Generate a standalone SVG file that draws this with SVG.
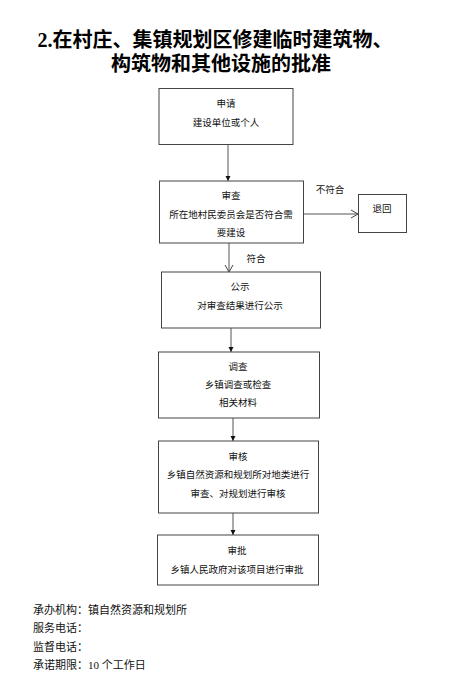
<svg xmlns="http://www.w3.org/2000/svg" width="455" height="698" viewBox="0 0 455 698">
<style>
.box{fill:#fff;stroke:#444;stroke-width:1}
.t{font-family:"Liberation Serif","Noto Sans CJK SC",serif;font-size:9.5px;fill:#111;text-anchor:middle;dominant-baseline:central}
.title{font-family:"Liberation Serif","Noto Sans CJK SC",serif;font-size:20px;font-weight:bold;fill:#000;text-anchor:middle;dominant-baseline:central}
.foot{font-family:"Liberation Serif","Noto Sans CJK SC",serif;font-size:11px;fill:#111;dominant-baseline:central}
.ln{stroke:#555;stroke-width:1;fill:none}
</style>
<defs>
<marker id="fa" markerWidth="6" markerHeight="6" refX="5" refY="3" orient="auto" markerUnits="userSpaceOnUse"><path d="M0,0.5 L5,3 L0,5.5 Z" fill="#111"/></marker>
<marker id="oa" markerWidth="8" markerHeight="10" refX="7" refY="5" orient="auto" markerUnits="userSpaceOnUse"><path d="M0,1 L7,5 L0,9" fill="none" stroke="#444" stroke-width="1"/></marker>
</defs>
<rect width="455" height="698" fill="#fff"/>
<g id="title">
<text class="title" x="215" y="40">2.在村庄、集镇规划区修建临时建筑物、</text>
<text class="title" x="221" y="64">构筑物和其他设施的批准</text>
</g>
<g id="connectors">
<line class="ln" x1="228" y1="144" x2="228" y2="181" marker-end="url(#fa)"/>
<line class="ln" x1="229" y1="243" x2="229" y2="272" marker-end="url(#oa)"/>
<text class="t" x="256" y="259">符合</text>
<line class="ln" x1="303" y1="214" x2="358" y2="214" marker-end="url(#oa)"/>
<text class="t" x="330" y="190">不符合</text>
<line class="ln" x1="231" y1="328" x2="231" y2="352" marker-end="url(#fa)"/>
<line class="ln" x1="233" y1="418" x2="233" y2="441" marker-end="url(#fa)"/>
<line class="ln" x1="233" y1="513" x2="233" y2="535" marker-end="url(#fa)"/>
</g>
<g id="n1">
<rect class="box" x="159" y="88.5" width="134" height="56"/>
<text class="t" x="226" y="104">申请</text>
<text class="t" x="226" y="123">建设单位或个人</text>
</g>
<g id="n2">
<rect class="box" x="159.5" y="181" width="144" height="62"/>
<text class="t" x="231" y="196">审查</text>
<text class="t" x="231" y="215">所在地村民委员会是否符合需</text>
<text class="t" x="231" y="233">要建设</text>
</g>
<g id="n3">
<rect class="box" x="358.5" y="194.5" width="48" height="38"/>
<text class="t" x="382" y="209">退回</text>
</g>
<g id="n4">
<rect class="box" x="161.5" y="272" width="159" height="56"/>
<text class="t" x="240" y="287">公示</text>
<text class="t" x="240" y="306">对审查结果进行公示</text>
</g>
<g id="n5">
<rect class="box" x="158.5" y="352" width="161" height="66"/>
<text class="t" x="238" y="367">调查</text>
<text class="t" x="238" y="385">乡镇调查或检查</text>
<text class="t" x="238" y="403">相关材料</text>
</g>
<g id="n6">
<rect class="box" x="158.5" y="441" width="160" height="72"/>
<text class="t" x="238" y="457">审核</text>
<text class="t" x="238" y="475">乡镇自然资源和规划所对地类进行</text>
<text class="t" x="238" y="494">审查、对规划进行审核</text>
</g>
<g id="n7">
<rect class="box" x="157.5" y="535" width="161" height="50"/>
<text class="t" x="237" y="551">审批</text>
<text class="t" x="237" y="570">乡镇人民政府对该项目进行审批</text>
</g>
<g id="footer">
<text class="foot" x="33" y="610">承办机构：镇自然资源和规划所</text>
<text class="foot" x="33" y="628">服务电话：</text>
<text class="foot" x="33" y="647">监督电话：</text>
<text class="foot" x="33" y="665">承诺期限：10 个工作日</text>
</g>
</svg>
